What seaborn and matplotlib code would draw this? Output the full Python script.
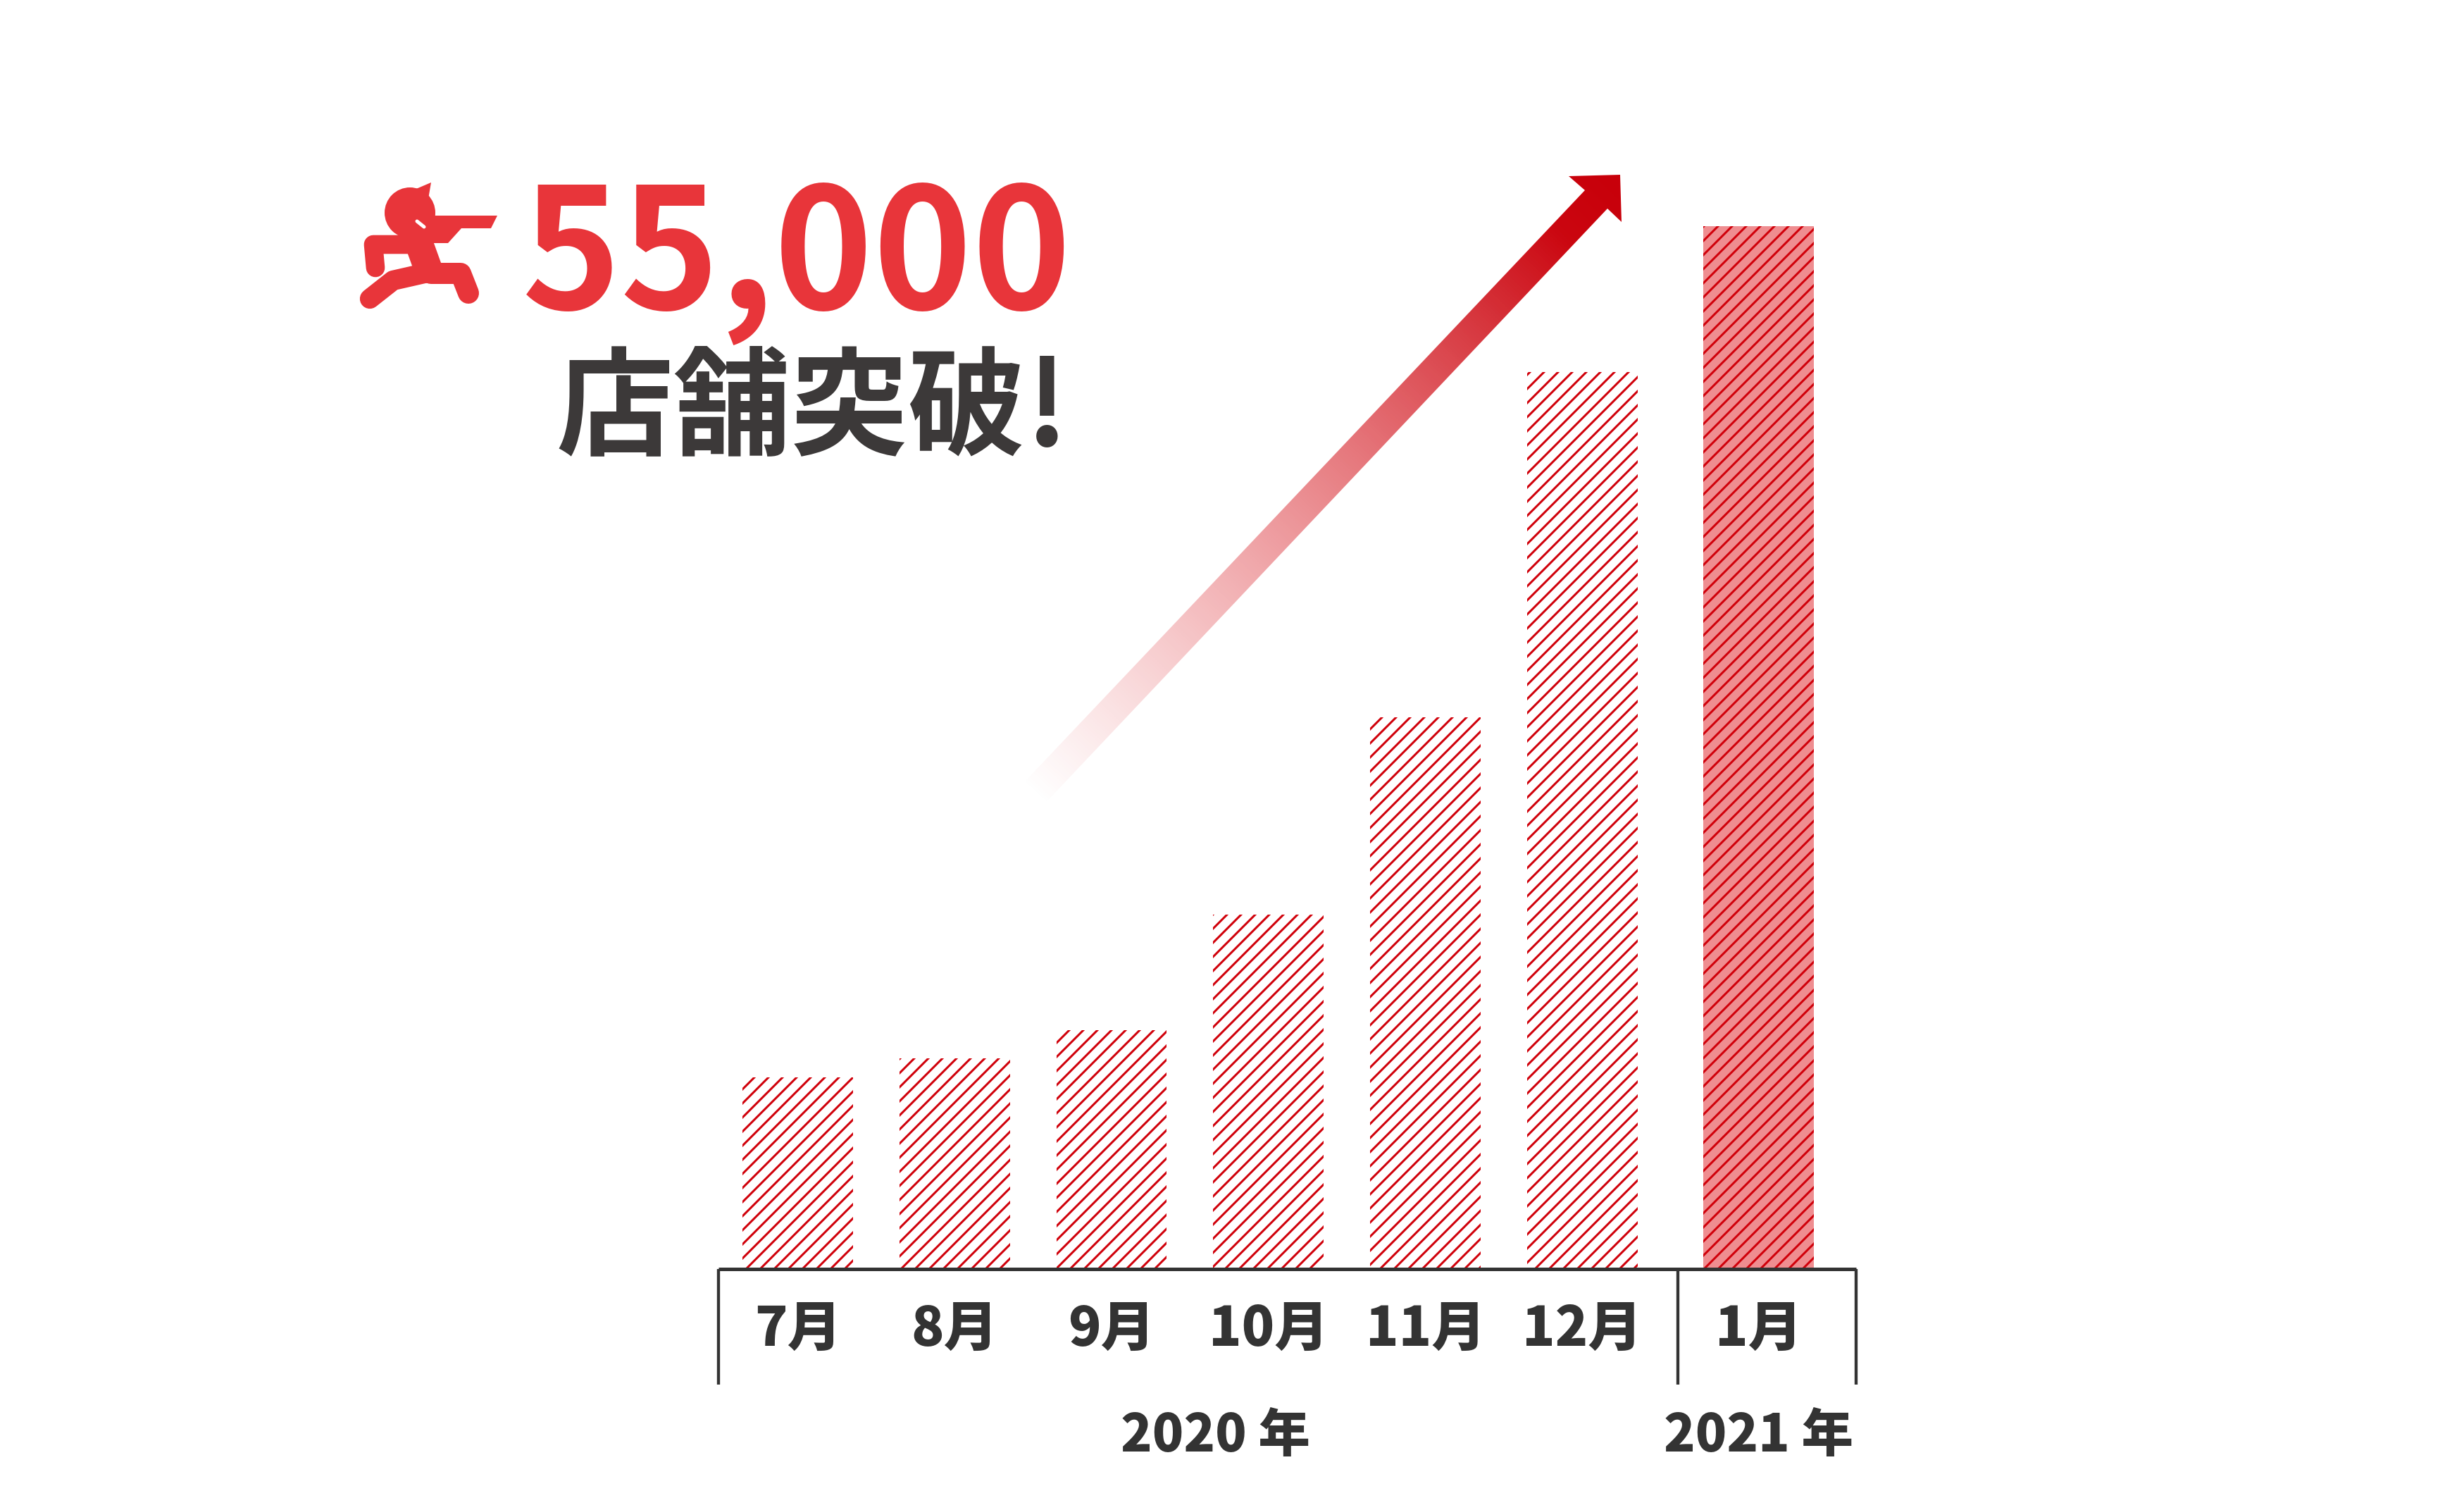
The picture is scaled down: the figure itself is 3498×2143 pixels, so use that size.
import matplotlib
matplotlib.use("Agg")
import matplotlib.pyplot as plt
from matplotlib.patches import Polygon, Circle
import seaborn as sns
import numpy as np
import pandas as pd

# data
months = ["7月", "8月", "9月", "10月", "11月", "12月", "1月"]
years = ["2020", "2020", "2020", "2020", "2020", "2020", "2021"]
stores = [10100, 11100, 12600, 18700, 29100, 47300, 55000]
headline_number = "55,000"
headline_text = "店舗突破!"

sns.set_theme(style="white")
plt.rcParams["font.family"] = ["Noto Sans CJK JP", "DejaVu Sans"]
plt.rcParams["hatch.linewidth"] = 1.8

DPI = 120
W, H = 3498, 2143
fig = plt.figure(figsize=(W / DPI, H / DPI), dpi=DPI)
fig.patch.set_facecolor("white")

RED = "#E8353A"
HATCH_RED = "#D0000A"
DARK = "#333333"

# bar positions, with a small extra gap where the year changes
year_arr = np.array(years)
x_pos = np.arange(len(months)) + 0.125 * (year_arr != year_arr[0])

ax = fig.add_axes([1020 / W, (H - 1801) / H, (2635 - 1020) / W, 1480 / H])
ax.patch.set_alpha(0)
df = pd.DataFrame({"x": x_pos, "stores": stores})
sns.barplot(data=df, x="x", y="stores", native_scale=True, width=0.704,
            color="white", ax=ax)

for yr, bar in zip(years, ax.patches):
    bar.set_hatch("//")
    bar.set_edgecolor(HATCH_RED)
    bar.set_linewidth(0)
    bar.set_facecolor("#EF8D90" if yr != years[0] else "white")

left_edge = x_pos[0] - 0.505
right_edge = x_pos[-1] + 0.62
ax.set_xlim(left_edge, right_edge)
ax.set_ylim(0, max(stores))

for s in ["left", "top", "right"]:
    ax.spines[s].set_visible(False)
ax.spines["bottom"].set_linewidth(3)
ax.spines["bottom"].set_color(DARK)
ax.spines["bottom"].set_capstyle("butt")

ax.set_yticks([])
ax.set_xticks(x_pos, months)
ax.tick_params(axis="x", length=0, pad=28, labelsize=46, labelcolor=DARK)
for t in ax.get_xticklabels():
    t.set_fontweight("heavy")
ax.set_xlabel("")
ax.set_ylabel("")

# year brackets under the axis
split = np.argmax(year_arr != year_arr[0])
divider = (x_pos[split - 1] + x_pos[split]) / 2 + 0.045
ax.vlines([left_edge, divider, right_edge], -0.111, 0,
          transform=ax.get_xaxis_transform(), colors=DARK, lw=2.6,
          clip_on=False)
ax.text((left_edge + divider) / 2 + 0.11, -0.16, years[0] + " 年",
        transform=ax.get_xaxis_transform(), ha="center", va="center",
        fontsize=44, fontweight="heavy", color=DARK)
ax.text(x_pos[split:].mean(), -0.16, years[-1] + " 年",
        transform=ax.get_xaxis_transform(), ha="center", va="center",
        fontsize=44, fontweight="heavy", color=DARK)

# overlay in pixel coords for the headline, logo and arrow
ov = fig.add_axes([0, 0, 1, 1])
ov.set_xlim(0, W)
ov.set_ylim(H, 0)
ov.axis("off")
ov.patch.set_alpha(0)

ov.text(1521, 439, headline_number, ha="right", va="baseline", fontsize=143,
        fontweight="bold", color=RED)
ov.text(1518, 632, headline_text, ha="right", va="baseline", fontsize=100,
        fontweight="bold", color="#3C3939")

# running mascot, rough sketch
ov.add_patch(Circle((582, 302), 36, color=RED, lw=0))
ov.add_patch(Polygon([(572, 276), (612, 259), (606, 294)], color=RED, lw=0))
ov.add_patch(Polygon([(606, 306), (706, 306), (697, 324), (655, 324),
                      (636, 345), (608, 345)], color=RED, lw=0))
ov.plot([590, 608], [332, 382], color=RED, lw=24, solid_capstyle="round")
ov.plot([582, 530, 533], [347, 347, 380], color=RED, lw=16,
        solid_capstyle="round", solid_joinstyle="round")
ov.plot([602, 558, 525], [388, 398, 424], color=RED, lw=17,
        solid_capstyle="round", solid_joinstyle="round")
ov.plot([612, 654, 665], [388, 388, 416], color=RED, lw=18,
        solid_capstyle="round", solid_joinstyle="round")
ov.plot([592, 602], [314, 322], color="white", lw=3, solid_capstyle="round")

# gradient arrow
tail = np.array([1467.0, 1127.0])
head = np.array([2266.0, 283.0])
d = head - tail
L = np.hypot(*d)
d /= L
n = np.array([-d[1], d[0]])
if n[0] < 0:
    n = -n
hw = 21
arrow_pts = [tuple(tail - n * hw), (2250, 270), (2227, 250), (2300, 248),
             (2302, 315), (2282, 296), tuple(tail + n * hw)]
arrow = Polygon(arrow_pts, closed=True, facecolor="none", edgecolor="none")
ov.add_patch(arrow)

x0, x1, y0, y1 = 1420, 2320, 230, 1170
gx, gy = np.meshgrid(np.linspace(x0, x1, 600), np.linspace(y0, y1, 600))
t = ((gx - tail[0]) * d[0] + (gy - tail[1]) * d[1]) / (L + 40)
t = np.clip(t, 0, 1)
c0 = np.array([0xE8, 0x47, 0x4D]) / 255
c1 = np.array([0xC8, 0x00, 0x0A]) / 255
img = np.zeros(gx.shape + (4,))
for k in range(3):
    img[..., k] = c0[k] + (c1[k] - c0[k]) * t
img[..., 3] = np.clip(t * 1.1, 0, 1)
im = ov.imshow(img, extent=(x0, x1, y1, y0), interpolation="bilinear",
               aspect="auto", zorder=2)
im.set_clip_path(arrow)
ov.set_xlim(0, W)
ov.set_ylim(H, 0)

fig.savefig("out.png", dpi=DPI)
